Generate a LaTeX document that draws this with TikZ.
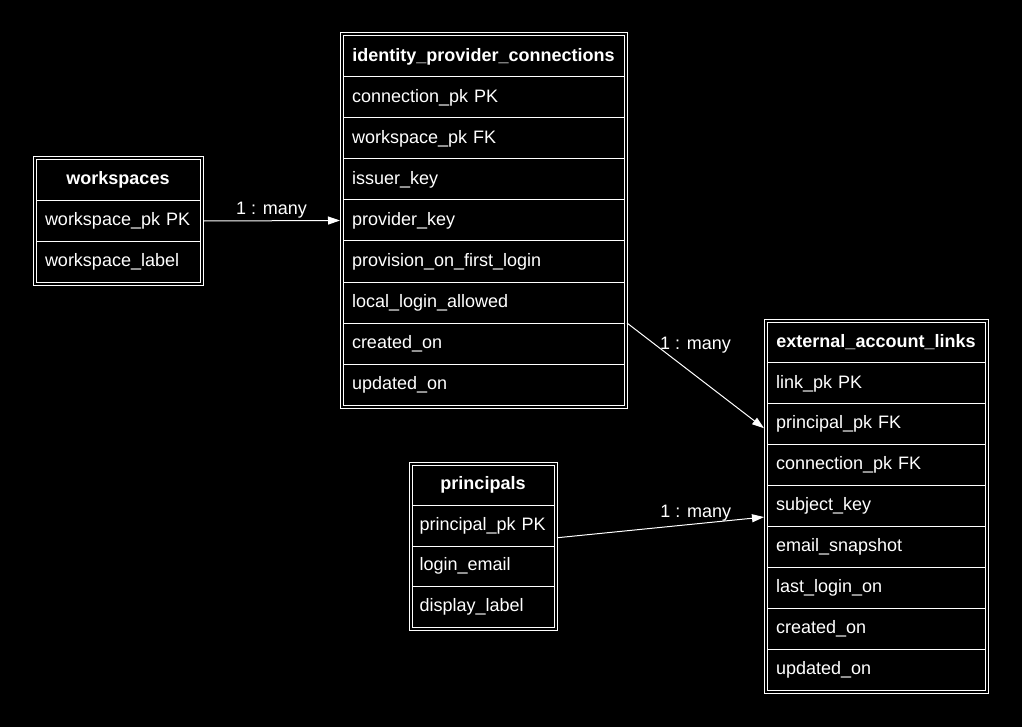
\documentclass[tikz,border=0pt]{standalone}
\usepackage{fontspec}
\setmainfont{Liberation Sans}
\usepackage{tikz}
\usetikzlibrary{positioning,arrows.meta}

\begin{document}
\begin{tikzpicture}[
  x=1pt, y=-1pt,
  >={Triangle[length=12pt,width=8pt]},
  row/.style={rectangle, draw=white, line width=1pt, text=white, font=\fontsize{18}{22}\selectfont, align=left, anchor=north west, inner xsep=9pt, inner ysep=0pt, outer sep=0pt},
  hdr/.style={row, font=\fontsize{18}{22}\selectfont\bfseries, align=center},
  frame/.style={draw=white, line width=1pt},
  link/.style={draw=white, line width=1pt, ->},
  elab/.style={text=white, font=\fontsize{18}{22}\selectfont, inner sep=2pt},
  wsrow/.style={text width=146pt, minimum height=40.67pt},
  ipcrow/.style={text width=263pt, minimum height=41pt},
  prrow/.style={text width=127pt, inner xsep=7.5pt, minimum height=40.5pt},
  ealrow/.style={text width=200pt, minimum height=40.9pt}
]
\fill[black] (0,0) rectangle (1022,727);
\useasboundingbox (0,0) rectangle (1022,727);

% workspaces
\node[hdr, wsrow] (ws0) at (36,160) {workspaces};
\node[row, wsrow, below=0pt of ws0] (ws1) {workspace\_pk PK};
\node[row, wsrow, below=0pt of ws1] (ws2) {workspace\_label};
\draw[frame] ([shift={(-3pt,3pt)}]ws0.north west) rectangle ([shift={(3pt,-3pt)}]ws2.south east);

% identity_provider_connections
\node[hdr, ipcrow] (ipc0) at (343,36) {identity\_provider\_connections};
\node[row, ipcrow, below=0pt of ipc0] (ipc1) {connection\_pk PK};
\node[row, ipcrow, below=0pt of ipc1] (ipc2) {workspace\_pk FK};
\node[row, ipcrow, below=0pt of ipc2] (ipc3) {issuer\_key};
\node[row, ipcrow, below=0pt of ipc3] (ipc4) {provider\_key};
\node[row, ipcrow, below=0pt of ipc4] (ipc5) {provision\_on\_first\_login};
\node[row, ipcrow, below=0pt of ipc5] (ipc6) {local\_login\_allowed};
\node[row, ipcrow, below=0pt of ipc6] (ipc7) {created\_on};
\node[row, ipcrow, below=0pt of ipc7] (ipc8) {updated\_on};
\draw[frame] ([shift={(-3pt,3pt)}]ipc0.north west) rectangle ([shift={(3pt,-3pt)}]ipc8.south east);

% principals
\node[hdr, prrow] (pr0) at (412,465) {principals};
\node[row, prrow, below=0pt of pr0] (pr1) {principal\_pk PK};
\node[row, prrow, below=0pt of pr1] (pr2) {login\_email};
\node[row, prrow, below=0pt of pr2] (pr3) {display\_label};
\draw[frame] ([shift={(-3pt,3pt)}]pr0.north west) rectangle ([shift={(3pt,-3pt)}]pr3.south east);

% external_account_links
\node[hdr, ealrow] (eal0) at (767,322) {external\_account\_links};
\node[row, ealrow, below=0pt of eal0] (eal1) {link\_pk PK};
\node[row, ealrow, below=0pt of eal1] (eal2) {principal\_pk FK};
\node[row, ealrow, below=0pt of eal2] (eal3) {connection\_pk FK};
\node[row, ealrow, below=0pt of eal3] (eal4) {subject\_key};
\node[row, ealrow, below=0pt of eal4] (eal5) {email\_snapshot};
\node[row, ealrow, below=0pt of eal5] (eal6) {last\_login\_on};
\node[row, ealrow, below=0pt of eal6] (eal7) {created\_on};
\node[row, ealrow, below=0pt of eal7] (eal8) {updated\_on};
\draw[frame] ([shift={(-3pt,3pt)}]eal0.north west) rectangle ([shift={(3pt,-3pt)}]eal8.south east);

% relations
\draw[link] ([xshift=3pt]ws1.east) -- node[elab, midway, above] {1 : many} ([xshift=-3pt]ipc4.west);
\draw[link] ([xshift=3pt]ipc7.north east) -- node[elab, pos=0.5, above=20pt] {1 : many} ([shift={(-3pt,-4pt)}]eal2.west);
\draw[link] ([shift={(3pt,-12pt)}]pr1.east) -- node[elab, pos=0.67, above] {1 : many} ([shift={(-3pt,-11pt)}]eal4.west);
\end{tikzpicture}
\end{document}
